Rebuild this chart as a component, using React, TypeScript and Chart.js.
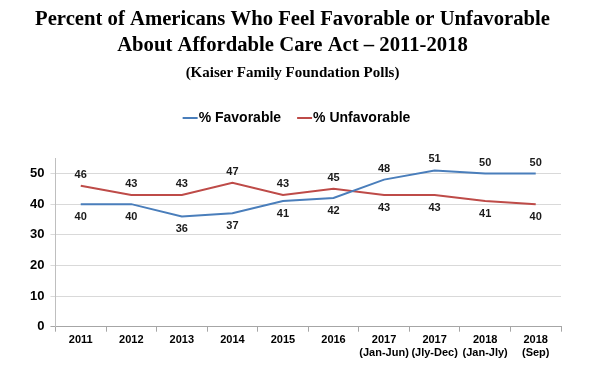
import React, { useEffect, useRef } from "react";
import { Chart, registerables } from "chart.js";

Chart.register(...registerables);

const categories: (string | string[])[] = [
  "2011",
  "2012",
  "2013",
  "2014",
  "2015",
  "2016",
  ["2017", "(Jan-Jun)"],
  ["2017", "(Jly-Dec)"],
  ["2018", "(Jan-Jly)"],
  ["2018", "(Sep)"],
];
const favorable = [40, 40, 36, 37, 41, 42, 48, 51, 50, 50];
const unfavorable = [46, 43, 43, 47, 43, 45, 43, 43, 41, 40];
const yTickValues = [0, 10, 20, 30, 40, 50];
// label placement: true = above point
const favorableAbove = [false, false, false, false, false, false, true, true, true, true];
const unfavorableAbove = [true, true, true, true, true, true, false, false, false, false];

const titleLines = [
  "Percent of Americans Who Feel Favorable or Unfavorable",
  "About Affordable Care Act \u2013 2011-2018",
];
const subtitleText = "(Kaiser Family Foundation Polls)";

const BLUE = "#4a7ebb";
const RED = "#be4b48";
const SANS = "'Liberation Sans', Arial, sans-serif";
const SERIF = "'Liberation Serif', 'Times New Roman', serif";

export default function App() {
  const ref = useRef<HTMLCanvasElement | null>(null);
  useEffect(() => {
    if (!ref.current) return;
    const placements = [favorableAbove, unfavorableAbove];
    const labelPlugin = {
      id: "pointLabels",
      afterDatasetsDraw(chart: any) {
        const ctx = chart.ctx;
        ctx.save();
        ctx.font = `bold 11px ${SANS}`;
        ctx.fillStyle = "#1a1a1a";
        ctx.textAlign = "center";
        ctx.textBaseline = "middle";
        chart.data.datasets.forEach((ds: any, di: number) => {
          const meta = chart.getDatasetMeta(di);
          meta.data.forEach((pt: any, i: number) => {
            const above = placements[di][i];
            const y = above ? pt.y - 11 : pt.y + 13;
            ctx.fillText(String(ds.data[i]), pt.x, y);
          });
        });
        ctx.restore();
      },
    };
    const customLegend = {
      id: "customLegend",
      afterDraw(chart: any) {
        const ctx = chart.ctx;
        ctx.save();
        ctx.font = `bold 14px ${SANS}`;
        ctx.textBaseline = "middle";
        ctx.textAlign = "left";
        const items = chart.data.datasets.map((ds: any) => ({
          text: ds.label,
          color: ds.borderColor,
          w: ctx.measureText(ds.label).width,
        }));
        const lineW = 15;
        const gapText = 1;
        const gapItems = 16;
        let total = 0;
        items.forEach((it: any, i: number) => {
          total += lineW + gapText + it.w + (i > 0 ? gapItems : 0);
        });
        let x = 296.5 - total / 2;
        const y = 118;
        items.forEach((it: any) => {
          ctx.strokeStyle = it.color;
          ctx.lineWidth = 2;
          ctx.beginPath();
          ctx.moveTo(x, y);
          ctx.lineTo(x + lineW, y);
          ctx.stroke();
          ctx.fillStyle = "#000";
          ctx.fillText(it.text, x + lineW + gapText, y);
          x += lineW + gapText + it.w + gapItems;
        });
        ctx.restore();
      },
    };
    const chart = new Chart(ref.current, {
      type: "line",
      data: {
        labels: categories,
        datasets: [
          {
            label: "% Favorable",
            data: favorable,
            borderColor: BLUE,
            backgroundColor: BLUE,
            borderWidth: 2,
            pointRadius: 0,
            tension: 0,
          },
          {
            label: "% Unfavorable",
            data: unfavorable,
            borderColor: RED,
            backgroundColor: RED,
            borderWidth: 2,
            pointRadius: 0,
            tension: 0,
          },
        ],
      },
      options: {
        animation: false,
        responsive: true,
        maintainAspectRatio: false,
        layout: { padding: { left: 24, right: 31, bottom: 5, top: 0 } },
        plugins: {
          title: {
            display: true,
            text: titleLines,
            color: "#000",
            font: { family: SERIF, size: 20.7, weight: "bold", lineHeight: 1.26 },
            padding: { top: 7, bottom: 5 },
          },
          subtitle: {
            display: true,
            text: subtitleText,
            color: "#000",
            font: { family: SERIF, size: 15, weight: "bold", lineHeight: 1.2 },
            padding: { top: 0, bottom: 76 },
          },
          legend: { display: false },
          tooltip: { enabled: false },
        },
        scales: {
          x: {
            type: "category",
            offset: true,
            grid: {
              offset: true,
              drawOnChartArea: false,
              drawTicks: true,
              tickLength: 5,
              color: "#a6a6a6",
            },
            border: { color: "#a6a6a6", width: 1 },
            ticks: {
              color: "#000",
              font: { family: SANS, size: 11, weight: "bold", lineHeight: 1.15 },
              padding: 2,
              maxRotation: 0,
              autoSkip: false,
            },
          },
          y: {
            min: 0,
            max: 55,
            afterBuildTicks(scale: any) {
              scale.ticks = yTickValues.map((v) => ({ value: v }));
            },
            ticks: {
              color: "#000",
              font: { family: SANS, size: 13, weight: "bold" },
              padding: 6,
            },
            grid: {
              color: (c: any) => (c.tick && c.tick.value === 0 ? "#a6a6a6" : "#d9d9d9"),
              tickLength: 5,
              lineWidth: 1,
            },
            border: { color: "#bfbfbf", width: 1 },
          },
        },
      },
      plugins: [labelPlugin, customLegend],
    } as any);
    return () => chart.destroy();
  }, []);
  return (
    <div
      style={{
        position: "fixed",
        left: 0,
        top: 0,
        width: 592,
        height: 366,
        background: "#fff",
      }}
    >
      <canvas ref={ref} />
    </div>
  );
}
